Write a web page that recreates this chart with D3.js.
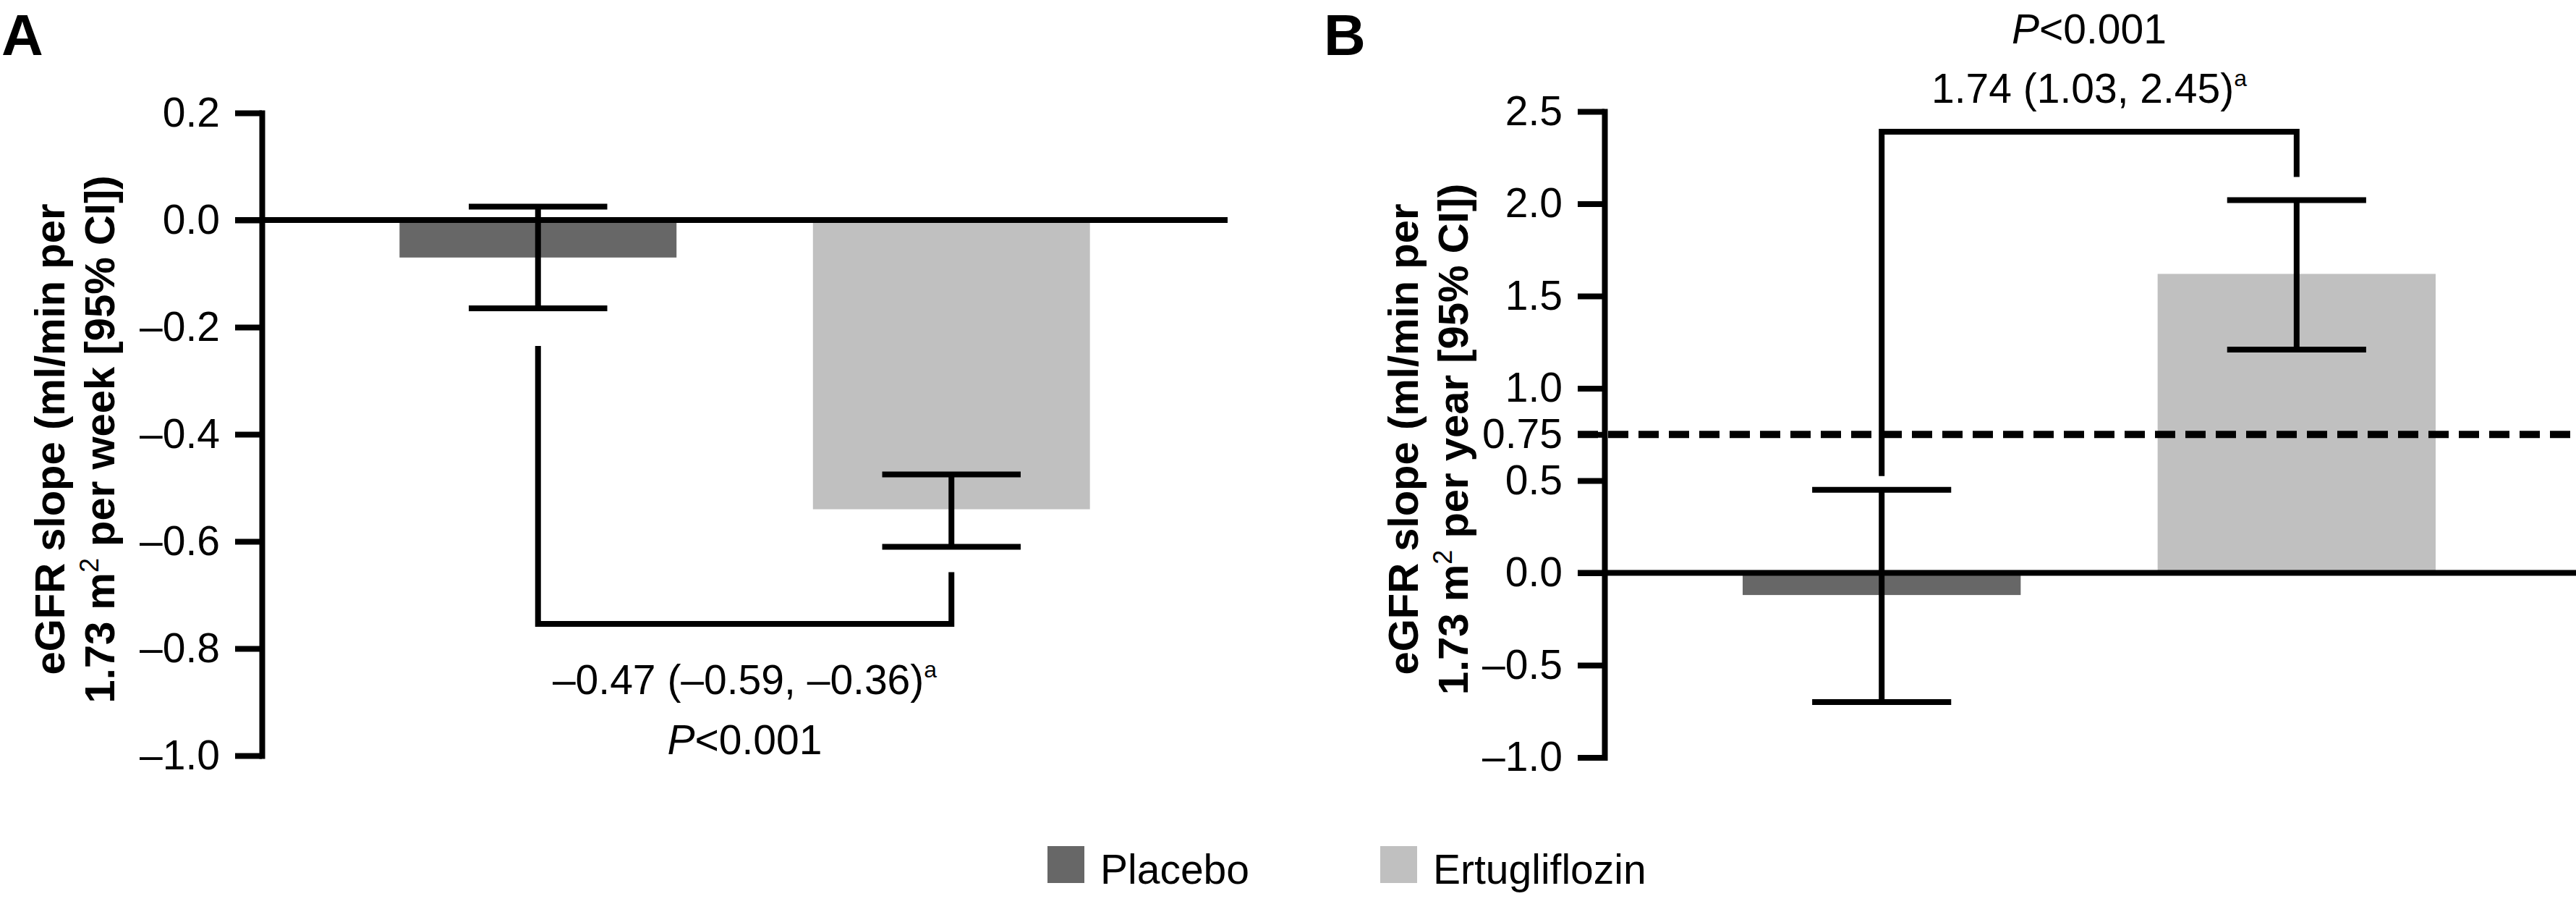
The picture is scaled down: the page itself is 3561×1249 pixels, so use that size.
<!DOCTYPE html>
<html>
<head>
<meta charset="utf-8">
<script src="https://cdn.jsdelivr.net/npm/d3@7"></script>
<style>
  html, body { margin: 0; padding: 0; background: #ffffff; }
  svg { display: block; }
  text { font-family: "Liberation Sans", Arial, Helvetica, sans-serif; fill: #000; }
</style>
</head>
<body>
<script>
// ---------------- data ----------------
const groups = ["Placebo", "Ertugliflozin"];
const groupColors = ["#676767", "#c0c0c0"];

// Panel A: eGFR slope per week
const weekMean = [-0.07, -0.54];
const weekLow  = [-0.165, -0.61];
const weekHigh = [0.025, -0.475];
const weekTicks = [0.2, 0.0, -0.2, -0.4, -0.6, -0.8, -1.0];
const weekDiffText = "\u20130.47 (\u20130.59, \u20130.36)";

// Panel B: eGFR slope per year
const yearMean = [-0.12, 1.62];
const yearLow  = [-0.70, 1.21];
const yearHigh = [0.45, 2.02];
const yearTicks = [2.5, 2.0, 1.5, 1.0, 0.75, 0.5, 0.0, -0.5, -1.0];
const yearThreshold = 0.75;
const yearDiffText = "1.74 (1.03, 2.45)";

const pText = "<0.001";

// ---------------- layout ----------------
const W = 3561, H = 1249;
const svg = d3.select("body").append("svg").attr("width", W).attr("height", H);
svg.append("rect").attr("width", W).attr("height", H).attr("fill", "#fff");

const FS = 57;        // regular text size
const TFS = 58;       // axis title size
const SW = 8;         // stroke width
const TICK = 37;

function fmt(d) {
  const a = Math.abs(d);
  const s = (Math.round(a * 100) % 10 !== 0) ? a.toFixed(2) : a.toFixed(1);
  return (d < 0 ? "\u2013" : "") + s;
}

function panel(opt) {
  const g = svg.append("g");
  const x = d3.scaleBand().domain(groups).range([opt.axisX, opt.xEnd])
    .paddingInner(0.33).paddingOuter(0.333);
  const y = d3.scaleLinear().domain(opt.domain).range(opt.yRange);

  // bars
  g.selectAll("rect.bar").data(groups).join("rect")
    .attr("class", "bar")
    .attr("x", d => x(d))
    .attr("width", x.bandwidth())
    .attr("y", (d, i) => Math.min(y(0), y(opt.mean[i])))
    .attr("height", (d, i) => Math.abs(y(opt.mean[i]) - y(0)))
    .attr("fill", (d, i) => groupColors[i]);

  // zero line
  g.append("line")
    .attr("x1", opt.axisX - TICK).attr("x2", opt.zeroEnd)
    .attr("y1", y(0)).attr("y2", y(0))
    .attr("stroke", "#000").attr("stroke-width", SW);

  // threshold dashed line
  if (opt.threshold !== undefined) {
    g.append("line")
      .attr("x1", opt.axisX - TICK).attr("x2", W)
      .attr("y1", y(opt.threshold)).attr("y2", y(opt.threshold))
      .attr("stroke", "#000").attr("stroke-width", 10)
      .attr("stroke-dasharray", "28,14");
  }

  // error bars
  const capW = x.bandwidth() / 2;
  groups.forEach((d, i) => {
    const cx = x(d) + x.bandwidth() / 2;
    const eb = g.append("g").attr("stroke", "#000").attr("stroke-width", SW);
    eb.append("line").attr("x1", cx).attr("x2", cx)
      .attr("y1", y(opt.low[i])).attr("y2", y(opt.high[i]));
    eb.append("line").attr("x1", cx - capW / 2).attr("x2", cx + capW / 2)
      .attr("y1", y(opt.low[i])).attr("y2", y(opt.low[i]));
    eb.append("line").attr("x1", cx - capW / 2).attr("x2", cx + capW / 2)
      .attr("y1", y(opt.high[i])).attr("y2", y(opt.high[i]));
  });

  // axis
  const ax = g.append("g").attr("transform", `translate(${opt.axisX},0)`)
    .call(d3.axisLeft(y).tickValues(opt.ticks).tickSize(TICK).tickPadding(21)
      .tickSizeOuter(0).tickFormat(fmt));
  ax.select(".domain").attr("stroke", "#000").attr("stroke-width", SW)
    .attr("stroke-linecap", "square");
  ax.selectAll(".tick line").attr("stroke", "#000").attr("stroke-width", SW);
  ax.selectAll(".tick text").attr("font-size", FS)
    .attr("font-family", "'Liberation Sans', Arial, Helvetica, sans-serif")
    .attr("fill", "#000");

  // axis title (two lines, rotated)
  const cy = 607;
  g.append("text").attr("transform", `translate(${opt.titleX1},${cy}) rotate(-90)`)
    .attr("text-anchor", "middle").attr("font-size", TFS).attr("font-weight", "bold")
    .text("eGFR slope (ml/min per");
  const t2 = g.append("text").attr("transform", `translate(${opt.titleX1 + 69},${cy}) rotate(-90)`)
    .attr("text-anchor", "middle").attr("font-size", TFS).attr("font-weight", "bold");
  t2.append("tspan").text("1.73 m");
  t2.append("tspan").attr("font-size", 36).attr("font-weight", "normal").attr("dy", -22).text("2");
  t2.append("tspan").attr("dy", 22).text(" per " + opt.unit + " [95% CI])");

  // panel letter
  g.append("text").attr("x", opt.letterX).attr("y", 76)
    .attr("font-size", 80).attr("font-weight", "bold").text(opt.letter);

  // bracket
  const c0 = x(groups[0]) + x.bandwidth() / 2;
  const c1 = x(groups[1]) + x.bandwidth() / 2;
  const by = y(opt.bracketLevel);
  g.append("path")
    .attr("d", `M${c0},${opt.bracketEnd0(y)}V${by}H${c1}V${opt.bracketEnd1(y)}`)
    .attr("fill", "none").attr("stroke", "#000").attr("stroke-width", SW)
    .attr("stroke-linejoin", "miter");

  const mid = (c0 + c1) / 2;
  const dt = g.append("text").attr("x", mid).attr("y", by + opt.diffOffset)
    .attr("text-anchor", "middle").attr("font-size", FS);
  dt.append("tspan").text(opt.diffText);
  dt.append("tspan").attr("font-size", 32).attr("dy", -23).text("a");

  const pt = g.append("text").attr("x", mid).attr("y", by + opt.pOffset)
    .attr("text-anchor", "middle").attr("font-size", FS);
  pt.append("tspan").attr("font-style", "italic").text("P");
  pt.append("tspan").text(pText);
}

panel({
  letter: "A", letterX: 2,
  axisX: 362, xEnd: 1697, zeroEnd: 1697,
  domain: [-1.0, 0.2], yRange: [1044, 156],
  mean: weekMean, low: weekLow, high: weekHigh, ticks: weekTicks,
  titleX1: 89, unit: "week",
  bracketLevel: -0.754,
  bracketEnd0: y => y(weekLow[0]) + 52,
  bracketEnd1: y => y(weekLow[1]) + 35,
  diffText: weekDiffText, diffOffset: 97, pOffset: 180
});

panel({
  letter: "B", letterX: 1830,
  axisX: 2218, xEnd: 3558, zeroEnd: W,
  domain: [-1.0, 2.5], yRange: [1046.5, 154],
  mean: yearMean, low: yearLow, high: yearHigh, ticks: yearTicks,
  threshold: yearThreshold,
  titleX1: 1960, unit: "year",
  bracketLevel: 2.39,
  bracketEnd0: y => y(yearHigh[0]) - 19,
  bracketEnd1: y => y(yearHigh[1]) - 32,
  diffText: yearDiffText, diffOffset: -40, pOffset: -122
});

// legend
const legend = svg.append("g");
const legX = [1448, 1908];
groups.forEach((d, i) => {
  legend.append("rect").attr("x", legX[i]).attr("y", 1169)
    .attr("width", 51).attr("height", 51).attr("fill", groupColors[i]);
  legend.append("text").attr("x", legX[i] + 73).attr("y", 1221)
    .attr("font-size", FS).text(d);
});
</script>
</body>
</html>
